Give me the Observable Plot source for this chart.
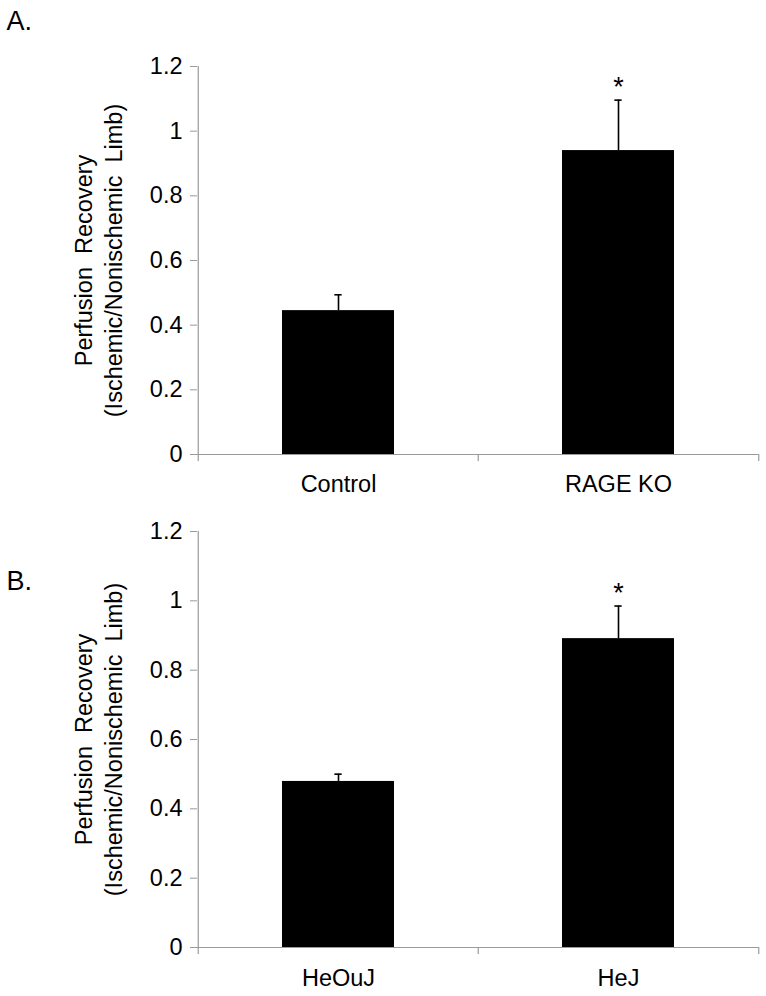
<!DOCTYPE html>
<html>
<head>
<meta charset="utf-8">
<script src="https://cdn.jsdelivr.net/npm/d3@7"></script>
<script src="https://cdn.jsdelivr.net/npm/@observablehq/plot@0.6"></script>
<style>
  html, body { margin: 0; padding: 0; background: #fff; }
  #chart svg { display: block; font-family: "Liberation Sans", Arial, sans-serif; }
</style>
</head>
<body>
<div id="chart"></div>
<script>
// ---- Data ----
const panelACategories = ["Control", "RAGE KO"];
const panelAValues = [0.445, 0.940];
const panelAErrors = [0.049, 0.156];
const panelASignificant = [false, true];

const panelBCategories = ["HeOuJ", "HeJ"];
const panelBValues = [0.479, 0.891];
const panelBErrors = [0.021, 0.094];
const panelBSignificant = [false, true];

const yTicks = [0, 0.2, 0.4, 0.6, 0.8, 1, 1.2];
const yDomain = [0, 1.2];
const yLabelLine1 = "Perfusion  Recovery";
const yLabelLine2 = "(Ischemic/Nonischemic  Limb)";
const panelLetters = ["A.", "B."];

const W = 766;
const ML = 197, MR = 8;
const AXIS = "#9a9a9a";

function panel({categories, values, errors, significant, letter, height, marginTop, marginBottom, labelPad, letterDy}) {
  const data = categories.map((c, i) => ({cat: c, v: values[i], top: values[i] + errors[i], sig: significant[i]}));
  const step = (W - ML - MR) / categories.length;
  const bw = step * 0.4;
  const capInset = (bw - 7.5) / 2;
  return Plot.plot({
    width: W,
    height,
    marginLeft: ML,
    marginRight: MR,
    marginTop,
    marginBottom,
    style: {fontFamily: "Liberation Sans, Arial, sans-serif", color: "#000", background: "#fff", overflow: "visible"},
    x: {domain: categories, paddingInner: 0.6, paddingOuter: 0.3, axis: null},
    y: {domain: yDomain, axis: null},
    marks: [
      // bars
      Plot.barY(data, {x: "cat", y: "v", fill: "#000"}),
      // error bars
      Plot.ruleX(data, {x: "cat", y1: "v", y2: "top", stroke: "#000", strokeWidth: 1.6}),
      Plot.tickY(data, {x: "cat", y: "top", stroke: "#000", strokeWidth: 1.6, insetLeft: capInset, insetRight: capInset}),
      // significance asterisks
      Plot.text(data.filter(d => d.sig), {x: "cat", y: "top", text: () => "*", fontSize: 27, dy: -13, fill: "#000"}),
      // axes lines
      Plot.ruleY([0], {stroke: AXIS, strokeWidth: 1.2}),
      Plot.ruleX([categories[0]], {x: d => d, dx: -step / 2, y1: yDomain[0], y2: yDomain[1], stroke: AXIS, strokeWidth: 1.2}),
      // category boundary ticks
      Plot.ruleX(categories, {x: d => d, dx: -step / 2, y1: 0, y2: 0, insetBottom: -7, stroke: AXIS, strokeWidth: 1.2}),
      Plot.ruleX([categories[categories.length - 1]], {x: d => d, dx: step / 2, y1: 0, y2: 0, insetBottom: -7, stroke: AXIS, strokeWidth: 1.2}),
      // y axis ticks + labels
      Plot.axisY({ticks: yTicks, tickFormat: d => String(d), tickSize: 7, tickPadding: 8, stroke: AXIS, fill: "#000", fontSize: 23.5, label: null}),
      // x axis labels
      Plot.axisX({tickSize: 0, tickPadding: labelPad, fill: "#000", fontSize: 23.5, label: null}),
      // y axis title (two lines)
      Plot.text([yLabelLine1], {text: d => d, frameAnchor: "left", textAnchor: "middle", lineAnchor: "middle", rotate: -90, dx: -113, fontSize: 23.5, fill: "#000"}),
      Plot.text([yLabelLine2], {text: d => d, frameAnchor: "left", textAnchor: "middle", lineAnchor: "middle", rotate: -90, dx: -83, fontSize: 23.5, fill: "#000"}),
      // panel letter
      Plot.text([letter], {text: d => d, frameAnchor: "top-left", textAnchor: "start", lineAnchor: "top", dx: 6 - ML, dy: letterDy, fontSize: 27, fill: "#000"})
    ]
  });
}

const chart = document.getElementById("chart");
chart.append(panel({
  categories: panelACategories, values: panelAValues, errors: panelAErrors, significant: panelASignificant,
  letter: panelLetters[0], height: 500, marginTop: 66, marginBottom: 46, labelPad: 21, letterDy: -56
}));
chart.append(panel({
  categories: panelBCategories, values: panelBValues, errors: panelBErrors, significant: panelBSignificant,
  letter: panelLetters[1], height: 496, marginTop: 31, marginBottom: 49, labelPad: 22, letterDy: 39
}));
</script>
</body>
</html>
